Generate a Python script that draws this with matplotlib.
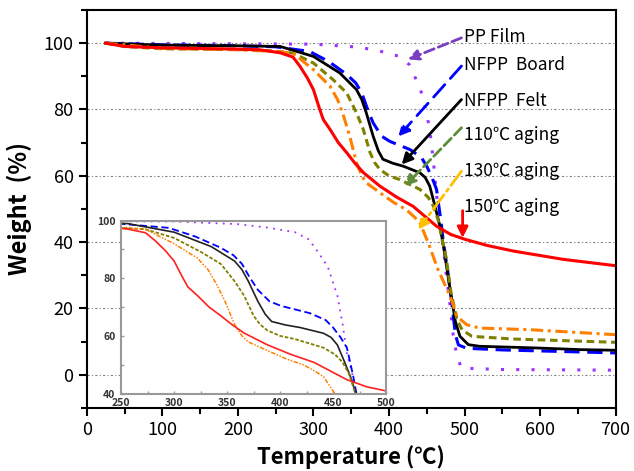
import matplotlib
matplotlib.use("Agg")
import matplotlib.pyplot as plt
from matplotlib.ticker import MultipleLocator

plt.rcParams['font.family'] = ['Noto Sans CJK KR', 'DejaVu Sans']

# TGA curves (temperature in C, weight in %)
pp_film_t = [25, 300, 360, 388, 414, 427, 436, 445, 454, 459, 463, 468, 471, 476, 481, 485, 490, 496, 550, 700]
pp_film_w = [100, 99.7, 98.8, 97.6, 96, 93.5, 89, 84, 74, 64, 54, 47, 40, 30, 20.7, 12, 5.6, 2, 1.6, 1.4]

board_t = [25, 100, 200, 250, 295, 320, 344, 356, 364, 371, 379, 390, 401, 428, 443, 450, 457, 463, 469, 472, 478, 484, 488, 492, 503, 550, 700]
board_w = [100, 99.5, 99.2, 98.9, 97.5, 94.5, 90.6, 88, 85, 80.5, 76, 72, 70.4, 67.9, 65.5, 62.9, 59.5, 55.9, 46, 40, 31, 20, 12, 9, 8, 7.5, 6.6]

felt_t = [25, 100, 200, 256, 300, 335, 357, 364, 370, 379, 386, 392, 405, 419, 441, 448, 454, 461, 467.5, 472, 481, 488, 494, 505, 520, 595, 653, 700]
felt_w = [100, 99.4, 99.2, 99, 96, 91, 86, 83, 79, 72, 67.5, 65, 63.8, 62.9, 60.9, 59.5, 56.9, 50.8, 44.8, 39, 25.7, 16, 11.6, 9.1, 8.6, 8.1, 7.6, 7.4]

a110_t = [25, 50, 100, 200, 250, 273, 300, 326, 344, 357, 366, 375, 381, 388, 400, 414, 441, 452, 459, 465, 471, 476, 482, 490, 497, 510, 564, 700]
a110_w = [100, 99, 98.3, 98.1, 97.6, 97, 94, 89, 85, 79, 74, 67, 64, 61.9, 60, 58.9, 55.9, 53.5, 50.8, 46.8, 40, 35, 25, 16.6, 13.5, 11.6, 10.8, 9.8]

a130_t = [25, 100, 200, 250, 273, 300, 322, 332, 340, 348, 357, 364, 370, 388, 406, 423, 434, 441, 452, 465, 481, 490, 503, 520, 587, 700]
a130_w = [100, 98.4, 98, 97.5, 97, 92, 87, 83, 78, 72, 64, 60, 57.9, 54.9, 52, 49.8, 47.5, 45.8, 39.8, 31.7, 23.7, 17.6, 15.1, 14.1, 13.6, 12.1]

a150_t = [25, 50, 100, 200, 229, 256, 273, 282, 292, 300, 307, 313, 322, 333, 344, 355, 366, 388, 410, 432, 463, 482, 500, 530, 565, 631, 700]
a150_w = [100, 99, 98.6, 98.2, 98, 97.1, 95.8, 93.1, 89.5, 86, 81, 77, 74, 70, 67, 63.8, 61, 56.9, 53.6, 50.8, 44.8, 42.3, 40.9, 39, 37.3, 34.8, 32.9]

labels = ['PP Film', 'NFPP  Board', 'NFPP  Felt', '110\u2103 aging', '130\u2103 aging', '150\u2103 aging']
label_y = [101.9, 93.5, 82.5, 72.4, 61.4, 50.6]
arrow_from = [(496, 101.6), (496, 93.1), (496, 83), (496, 74.5), (496, 61.4), (497.5, 49.5)]
arrow_tip = [(425, 95.1), (412.5, 71.9), (416.8, 63.4), (421, 56.9), (438.8, 43.8), (497.5, 41.3)]

fig = plt.figure(figsize=(6.34, 4.71), dpi=100)
ax = fig.add_axes([0.1368, 0.1338, 0.8342, 0.845])

ax.plot(pp_film_t, pp_film_w, color='#9933FF', lw=2.2, ls=(0, (1, 4)))
ax.plot(board_t, board_w, color='#0000FF', lw=2.2, ls=(0, (5, 2.5)))
ax.plot(felt_t, felt_w, color='black', lw=2)
ax.plot(a110_t, a110_w, color='#808000', lw=2.2, ls=(0, (2.5, 1.5)))
ax.plot(a130_t, a130_w, color='#FF8000', lw=2.2, ls=(0, (4, 1.5, 1, 1.5)))
ax.plot(a150_t, a150_w, color='#FF0000', lw=2.2)

ax.set_xlim(0, 700)
ax.set_ylim(-10, 110)
ax.xaxis.set_major_locator(MultipleLocator(100))
ax.xaxis.set_minor_locator(MultipleLocator(50))
ax.yaxis.set_major_locator(MultipleLocator(20))
ax.yaxis.set_minor_locator(MultipleLocator(10))
ax.tick_params(which='major', direction='out', length=6, width=1.5, labelsize=13)
ax.tick_params(which='minor', direction='out', length=4, width=1.5)
for s in ax.spines.values():
    s.set_linewidth(1.5)
ax.grid(axis='y', which='major', color='gray', lw=0.8, ls=(0, (2, 2, 1, 2)))
ax.set_xlabel('Temperature (\u2103)', fontsize=16, fontweight='bold', labelpad=4)
ax.set_ylabel('Weight  (%)', fontsize=17, fontweight='bold', labelpad=8)

arrow_styles = [
    dict(color='#7A3FC0', ls='--'),
    dict(color='#0000FF', ls=(0, (6, 3))),
    dict(color='black', ls='-'),
    dict(color='#5E8C3A', ls='--'),
    dict(color='#FFC000', ls='-.'),
    dict(color='#FF0000', ls='-'),
]
for i in range(len(labels)):
    ax.text(499, label_y[i], labels[i], fontsize=12.5, fontweight='medium',
            va='center', ha='left')
    st = arrow_styles[i]
    ax.annotate('', xy=arrow_tip[i], xytext=arrow_from[i],
                arrowprops=dict(arrowstyle='-|>', color=st['color'], lw=2,
                                linestyle=st['ls'], mutation_scale=16,
                                shrinkA=0, shrinkB=0))

# zoomed inset
ins = fig.add_axes([0.191, 0.1645, 0.418, 0.367])
ins.set_facecolor('white')
ins.plot(pp_film_t, pp_film_w, color='#9933FF', lw=1.3, ls=(0, (1, 3)))
ins.plot(board_t, board_w, color='#0000FF', lw=1.3, ls=(0, (4, 2)))
ins.plot(felt_t, felt_w, color='#222222', lw=1.2)
ins.plot(a110_t, a110_w, color='#808000', lw=1.3, ls=(0, (2, 1)))
ins.plot(a130_t, a130_w, color='#FF8000', lw=1.1, ls=(0, (3, 1, 1, 1, 1, 1)))
ins.plot(a150_t, a150_w, color='#FF2020', lw=1.2)
ins.set_xlim(250, 500)
ins.set_ylim(40, 100)
ins.xaxis.set_major_locator(MultipleLocator(50))
ins.xaxis.set_minor_locator(MultipleLocator(25))
ins.yaxis.set_major_locator(MultipleLocator(20))
ins.yaxis.set_minor_locator(MultipleLocator(10))
ins.tick_params(which='both', direction='in', length=2, width=1, color='#999999',
                labelsize=7.5, labelcolor='#333333')
ins.tick_params(axis='x', pad=3)
ins.tick_params(axis='y', pad=4)
for lab in ins.get_xticklabels() + ins.get_yticklabels():
    lab.set_fontweight('bold')
for s in ins.spines.values():
    s.set_color('#999999')
    s.set_linewidth(1.5)

fig.savefig('out.png', dpi=100)
